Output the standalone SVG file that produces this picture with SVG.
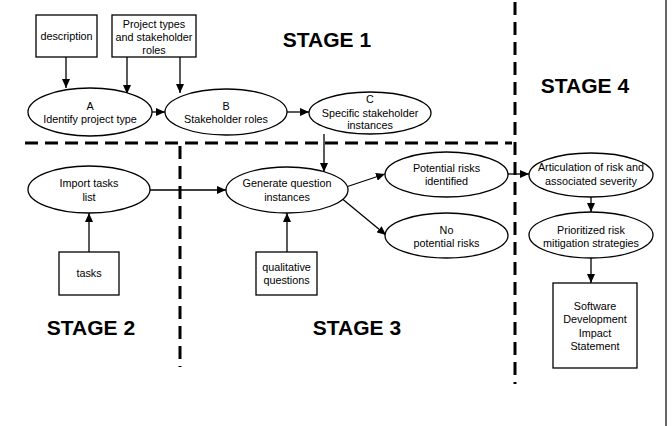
<svg xmlns="http://www.w3.org/2000/svg" width="672" height="426" viewBox="0 0 672 426">
<defs>
<marker id="ah" markerWidth="9" markerHeight="8" refX="9" refY="4" orient="auto" markerUnits="userSpaceOnUse">
<path d="M0,0 L9,4 L0,8 Z" fill="#000"/>
</marker>
</defs>
<style>
.n ellipse, .n rect { fill: #fff; stroke: #000; stroke-width: 1.3; }
.t { font-family: "Liberation Sans", Arial, sans-serif; font-size: 10.8px; text-anchor: middle; fill: #000; }
.s { font-family: "Liberation Sans", Arial, sans-serif; font-size: 21px; font-weight: bold; text-anchor: middle; fill: #000; }
.c { stroke: #000; stroke-width: 1.3; fill: none; marker-end: url(#ah); }
.d { stroke: #000; stroke-width: 3; stroke-dasharray: 13 7; fill: none; }
</style>
<rect x="0" y="0" width="672" height="426" fill="#fff"/>
<line x1="666" y1="0" x2="666" y2="426" stroke="#666" stroke-width="2"/>

<g id="dividers">
<line class="d" x1="25" y1="143" x2="512" y2="143"/>
<line class="d" x1="180" y1="146" x2="180" y2="367"/>
<line class="d" x1="515" y1="2" x2="515" y2="384"/>
</g>

<g id="stages">
<text class="s" x="327" y="47">STAGE 1</text>
<text class="s" x="585" y="93">STAGE 4</text>
<text class="s" x="91" y="335">STAGE 2</text>
<text class="s" x="357" y="335">STAGE 3</text>
</g>

<g id="connectors">
<line class="c" x1="66" y1="57" x2="66" y2="88"/>
<line class="c" x1="127" y1="57" x2="127" y2="94"/>
<line class="c" x1="180" y1="57" x2="180" y2="93"/>
<line class="c" x1="152" y1="112" x2="165" y2="112"/>
<line class="c" x1="287" y1="112" x2="309" y2="112"/>
<line class="c" x1="324" y1="134" x2="324" y2="172"/>
<line class="c" x1="150" y1="190" x2="226" y2="190"/>
<line class="c" x1="89" y1="252" x2="89" y2="213"/>
<line class="c" x1="287" y1="252" x2="287" y2="213"/>
<line class="c" x1="343" y1="188" x2="385" y2="174"/>
<line class="c" x1="340" y1="197" x2="386" y2="235"/>
<line class="c" x1="508" y1="174" x2="529" y2="174"/>
<line class="c" x1="591" y1="197" x2="591" y2="212"/>
<line class="c" x1="591" y1="258" x2="591" y2="283"/>
</g>

<g id="description" class="n">
<rect x="36" y="15" width="61" height="42"/>
<text class="t" x="66.5" y="40">description</text>
</g>
<g id="projecttypes" class="n">
<rect x="112" y="15" width="84" height="42"/>
<text class="t" x="154" y="28">Project types</text>
<text class="t" x="154" y="41">and stakeholder</text>
<text class="t" x="154" y="54">roles</text>
</g>
<g id="A" class="n">
<ellipse cx="90" cy="112" rx="62" ry="24"/>
<text class="t" x="90" y="110">A</text>
<text class="t" x="90" y="123">Identify project type</text>
</g>
<g id="B" class="n">
<ellipse cx="226" cy="112" rx="61" ry="23"/>
<text class="t" x="226" y="110">B</text>
<text class="t" x="226" y="123">Stakeholder roles</text>
</g>
<g id="C" class="n">
<ellipse cx="370" cy="113" rx="61" ry="21"/>
<text class="t" x="370" y="103">C</text>
<text class="t" x="370" y="117">Specific stakeholder</text>
<text class="t" x="370" y="129">instances</text>
</g>
<g id="import" class="n">
<ellipse cx="89" cy="189.5" rx="61" ry="23.5"/>
<text class="t" x="89" y="187">Import tasks</text>
<text class="t" x="89" y="201">list</text>
</g>
<g id="tasks" class="n">
<rect x="59" y="252" width="60" height="43"/>
<text class="t" x="89" y="277">tasks</text>
</g>
<g id="generate" class="n">
<ellipse cx="287" cy="190" rx="61" ry="23"/>
<text class="t" x="287" y="187">Generate question</text>
<text class="t" x="287" y="201">instances</text>
</g>
<g id="qualitative" class="n">
<rect x="256" y="252" width="61" height="43"/>
<text class="t" x="286.5" y="271">qualitative</text>
<text class="t" x="286.5" y="283.5">questions</text>
</g>
<g id="potential" class="n">
<ellipse cx="446.5" cy="174.5" rx="61.5" ry="22.5"/>
<text class="t" x="446.5" y="172">Potential risks</text>
<text class="t" x="446.5" y="185">identified</text>
</g>
<g id="nopotential" class="n">
<ellipse cx="446.5" cy="235.5" rx="61.5" ry="22.5"/>
<text class="t" x="446.5" y="234">No</text>
<text class="t" x="446.5" y="247">potential risks</text>
</g>
<g id="articulation" class="n">
<ellipse cx="591" cy="175" rx="62" ry="22"/>
<text class="t" x="591" y="171">Articulation of risk and</text>
<text class="t" x="591" y="185">associated severity</text>
</g>
<g id="prioritized" class="n">
<ellipse cx="591" cy="235" rx="62" ry="23"/>
<text class="t" x="591" y="234">Prioritized risk</text>
<text class="t" x="591" y="247">mitigation strategies</text>
</g>
<g id="sdis" class="n">
<rect x="553" y="283" width="84" height="85"/>
<text class="t" x="595" y="310">Software</text>
<text class="t" x="595" y="323">Development</text>
<text class="t" x="595" y="336.5">Impact</text>
<text class="t" x="595" y="349.5">Statement</text>
</g>
</svg>
